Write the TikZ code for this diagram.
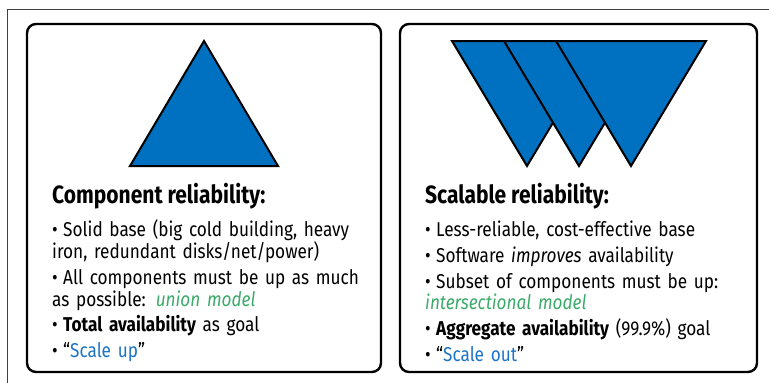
\documentclass[tikz,border=0pt]{standalone}
\usepackage{fontspec}
\setmainfont[FakeStretch=0.86, WordSpace=0.85]{Fira Sans}
\newfontfamily\headfont[FakeStretch=0.84]{Fira Sans}
\usetikzlibrary{positioning}
\definecolor{tribl}{HTML}{0070C0}
\definecolor{modelgreen}{HTML}{3BAA6A}
\definecolor{scaleblue}{HTML}{1C74C6}
\tikzstyle{frame} = [draw=black!75, line width=0.9pt]
\tikzstyle{panel} = [draw=black, line width=2.4pt, rounded corners=9pt]
\tikzstyle{pyramid} = [draw=black, line width=2pt, fill=tribl]
\tikzstyle{heading} = [anchor=base west, inner sep=0pt, font=\headfont\bfseries\fontsize{25}{28}\selectfont]
\tikzstyle{points} = [anchor=north west, inner sep=0pt, text width=315pt, align=left, font=\fontsize{20}{21.8}\selectfont]
\newcommand{\bul}[1]{\par\hangindent=11pt\hangafter=1\noindent\makebox[11pt][l]{\textbullet}#1}
\newcommand{\model}[1]{\textcolor{modelgreen}{\itshape #1}}
\newcommand{\scl}[1]{``\textcolor{scaleblue}{#1}''}

\begin{document}
\begin{tikzpicture}[x=1pt, y=-1pt]
	\useasboundingbox (0,0) rectangle (769,383);

	% page frame, open to the right and bottom
	\draw [frame] (7,383) -- (7,9) -- (769,9);

	\draw [panel] (27,24) rectangle (381,372);
	\draw [panel] (400,24) rectangle (757,372);

	% one solid block
	\draw [pyramid] (130,166) -- (204,41) -- (278,166) -- cycle;

	% three stacked slices
	\foreach \x in {452,504,556}
		\draw [pyramid] (\x,41) -- (\x+150,41) -- (\x+75,166) -- cycle;

	\node (compHead) [heading] at (52,203) {Component reliability:};
	\node (compList) [below=8pt of compHead.base west, points] {%
		\setlength{\parskip}{3.8pt}%
		\bul{Solid base (big cold building, heavy\\iron, redundant disks/net/power)}
		\bul{All components must be up as much\\as possible: \model{union model}}
		\bul{\textbf{Total availability} as goal}
		\bul{\scl{Scale up}}};

	\node (scalHead) [heading] at (425,203) {Scalable reliability:};
	\node (scalList) [below=8pt of scalHead.base west, points] {%
		\setlength{\parskip}{3.8pt}%
		\bul{Less-reliable, cost-effective base}
		\bul{Software \textit{improves} availability}
		\bul{Subset of components must be up:\\\model{intersectional model}}
		\bul{\textbf{Aggregate availability} (99.9\%) goal}
		\bul{\scl{Scale out}}};
\end{tikzpicture}
\end{document}
